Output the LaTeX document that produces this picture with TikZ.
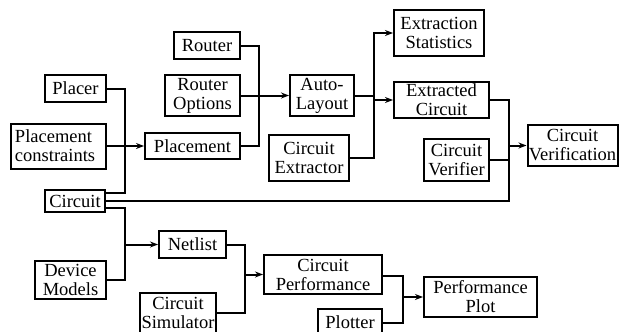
\documentclass[tikz,border=0pt]{standalone}
\usepackage{fontspec}
\setmainfont{Liberation Serif}
\usetikzlibrary{arrows.meta}

\begin{document}
\begin{tikzpicture}[
   x = 1pt, y = -1pt,
   > = {Stealth[length=8pt,width=6pt]},
 blk/.style 2 args = {draw, line width=2pt, align=center, inner sep=0pt,
               minimum width=#1, minimum height=#2,
               font=\fontsize{18.5}{19}\selectfont},
link/.style = {line width=2pt}
                    ]
\useasboundingbox (0,0) rectangle (619,332);
% layout and routing tools
\node[blk={66pt}{27pt}] (router) at (207,45.5) {Router};
\node[blk={75pt}{41pt}] (ropt)   at (202.5,95.5) {Router\\Options};
\node[blk={61pt}{27pt}] (placer) at (75.5,88.5) {Placer};
\node[blk={95pt}{45pt}, align=left, text width=87pt, inner xsep=4pt]
                        (pcons)  at (58.5,146) {Placement\\constraints};
\node[blk={95pt}{26pt}] (place)  at (192.5,146) {Placement};
\node[blk={64pt}{41pt}] (auto)   at (322,95.5) {Auto-\\Layout};
\node[blk={80pt}{46pt}] (extor)  at (309,158) {Circuit\\Extractor};
% extraction and verification
\node[blk={90pt}{46pt}] (stats)  at (439,33) {Extraction\\Statistics};
\node[blk={95pt}{36pt}] (extd)   at (441.5,100) {Extracted\\Circuit};
\node[blk={65pt}{42pt}] (verif)  at (456.5,160) {Circuit\\Verifier};
\node[blk={90pt}{41pt}] (verifn) at (572.5,145.5) {Circuit\\Verification};
% circuit and simulation
\node[blk={60pt}{22pt}] (circ)   at (75,201) {Circuit};
\node[blk={67pt}{27pt}] (net)    at (192.5,244.5) {Netlist};
\node[blk={71pt}{38pt}] (devm)   at (70.5,280) {Device\\Models};
\node[blk={76pt}{40pt}] (sim)    at (178,313) {Circuit\\Simulator};
\node[blk={118pt}{39pt}] (perf)  at (323,274.5) {Circuit\\Performance};
\node[blk={113pt}{40pt}] (pplot) at (480.5,297) {Performance\\Plot};
\node[blk={64pt}{28pt}] (plotter) at (350,322.5) {Plotter};
% connectors
\draw[link] (router.east) -- ++(18,0) |- (place.east);
\draw[link,->] (ropt.east) -- (auto.west);
\draw[link,->] (pcons.east) -- (place.west);
\draw[link] (placer.east) -- ++(18,0) |- ([yshift=-4pt]circ.north east);
\draw[link] (auto.east) -- ++(19,0) coordinate (ja);
\draw[link,->] (extor.east) -- (extor.east -| ja) |- (stats.west);
\draw[link,->] (ja |- extd.west) -- (extd.west);
\draw[link] (extd.east) -- ++(19,0) coordinate (jv) |- (circ.east);
\draw[link] (verif.east) -- (verif.east -| jv);
\draw[link,->] (jv |- verifn.west) -- (verifn.west);
\draw[link] ([yshift=-7pt]circ.east) -- ++(19,0) coordinate (jc) |- (devm.east);
\draw[link,->] (jc |- net.west) -- (net.west);
\draw[link] (net.east) -- ++(18,0) coordinate (jn) |- (sim.east);
\draw[link,->] (jn |- perf.west) -- (perf.west);
\draw[link] ([yshift=-1.5pt]perf.east) -- ++(20,0) coordinate (jp) |- (plotter.east);
\draw[link,->] (jp |- pplot.west) -- (pplot.west);
\end{tikzpicture}
\end{document}
